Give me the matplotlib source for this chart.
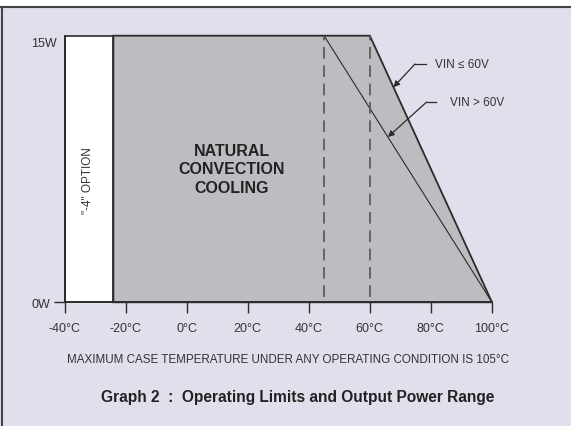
import matplotlib
matplotlib.use("Agg")
import matplotlib.pyplot as plt
from matplotlib.patches import Rectangle, Polygon
from matplotlib.lines import Line2D

plt.rcParams['font.family'] = ['Liberation Sans', 'DejaVu Sans']

# data
temp_ticks = [-40, -20, 0, 20, 40, 60, 80, 100]
temp_labels = ["-40°C", "-20°C", "0°C", "20°C", "40°C", "60°C", "80°C", "100°C"]
option_range = [-40, -24]          # "-4" option extends low limit
cooling_start = -24
full_power = 15                    # W
knee_low_vin = 60                  # VIN <= 60V derating starts
knee_high_vin = 45                 # VIN > 60V derating starts
zero_power_temp = 100

bg = "#E3DEEC"
gray = "#BCBDC1"
dark = "#2b2b2b"
txt = "#333333"

fig = plt.figure(figsize=(5.71, 4.27), dpi=100)
fig.patch.set_facecolor("white")
top = 1 - 8 / 427
fig.add_artist(Rectangle((0, 0), 1, top, transform=fig.transFigure,
                         facecolor=bg, edgecolor="none", zorder=-2))
fig.add_artist(Line2D([0, 1], [top, top], transform=fig.transFigure,
                      color="#444444", lw=1.5, zorder=-1))
fig.add_artist(Line2D([2 / 571, 2 / 571], [0, top], transform=fig.transFigure,
                      color="#444444", lw=1.5, zorder=-1))

ax = fig.add_axes([64.5 / 571, (427 - 303.3) / 427, 427.5 / 571, 266.6 / 427])
ax.set_facecolor("none")
ax.set_xlim(-40, 100)
ax.set_ylim(0, 15)

# white option band
ax.add_patch(Rectangle((option_range[0], 0), option_range[1] - option_range[0], full_power,
                       facecolor="white", edgecolor=dark, linewidth=1.2, clip_on=False, zorder=2))
# operating area
area = [(cooling_start, 0), (cooling_start, full_power), (knee_low_vin, full_power),
        (zero_power_temp, 0)]
ax.add_patch(Polygon(area, closed=True, facecolor=gray, edgecolor=dark, linewidth=1.3,
                     clip_on=False, zorder=2))
# VIN > 60V derating
ax.plot([knee_high_vin, zero_power_temp], [full_power, 0], color=dark, lw=0.8, zorder=3)

# dashed knees
for t in [knee_high_vin, knee_low_vin]:
    ax.plot([t, t], [0.3, full_power], color="#555555", lw=1.2, dashes=(7, 4), zorder=3)

# axes styling
for s in ["top", "right"]:
    ax.spines[s].set_visible(False)
for s in ["left", "bottom"]:
    ax.spines[s].set_color(dark)
    ax.spines[s].set_linewidth(1.3)
    ax.spines[s].set_zorder(4)
ax.set_xticks(temp_ticks)
ax.set_xticklabels(temp_labels)
ax.set_yticks([0])
ax.set_yticklabels(["0W"])
ax.tick_params(axis="both", direction="out", length=8, width=1, color=dark,
               labelsize=9, labelcolor=txt)
ax.tick_params(axis="x", pad=6)
ax.tick_params(axis="y", pad=2)
ax.text(-42.5, 14.6, "15W", ha="right", va="center", fontsize=9, color=txt)

# labels
ax.text(-32.3, 6.9, '"-4" OPTION', rotation=90, ha="center", va="center",
        fontsize=8.5, color=txt, zorder=5)
ax.text(14.7, 7.5, "NATURAL\nCONVECTION\nCOOLING", ha="center", va="center",
        fontsize=11.5, fontweight="bold", color="#222222", linespacing=1.3, zorder=5)

# VIN annotations
arrow = dict(arrowstyle="-|>", color=dark, lw=0.9, mutation_scale=9, shrinkA=0, shrinkB=0)
ax.plot([78.3, 74.8], [13.41, 13.41], color=dark, lw=0.9, clip_on=False)
ax.annotate("", xy=(67.7, 12.1), xytext=(74.8, 13.41), arrowprops=arrow,
            annotation_clip=False, zorder=5)
ax.text(81.3, 13.41, "VIN ≤ 60V", ha="left", va="center", fontsize=8.5, color=txt)

ax.plot([81.5, 78.6], [11.27, 11.27], color=dark, lw=0.9, clip_on=False)
ax.annotate("", xy=(65.9, 9.3), xytext=(78.6, 11.27), arrowprops=arrow,
            annotation_clip=False, zorder=5)
ax.text(86.2, 11.27, "VIN > 60V", ha="left", va="center", fontsize=8.5, color=txt)

fig.text(288 / 571, 1 - 360 / 427, "MAXIMUM CASE TEMPERATURE UNDER ANY OPERATING CONDITION IS 105°C",
         ha="center", va="center", fontsize=8.4, color=txt)
fig.text(298 / 571, 1 - 398 / 427, "Graph 2  :  Operating Limits and Output Power Range",
         ha="center", va="center", fontsize=11.2, fontweight="bold", color="#222222")

fig.savefig("out.png", dpi=100, facecolor=fig.get_facecolor())
